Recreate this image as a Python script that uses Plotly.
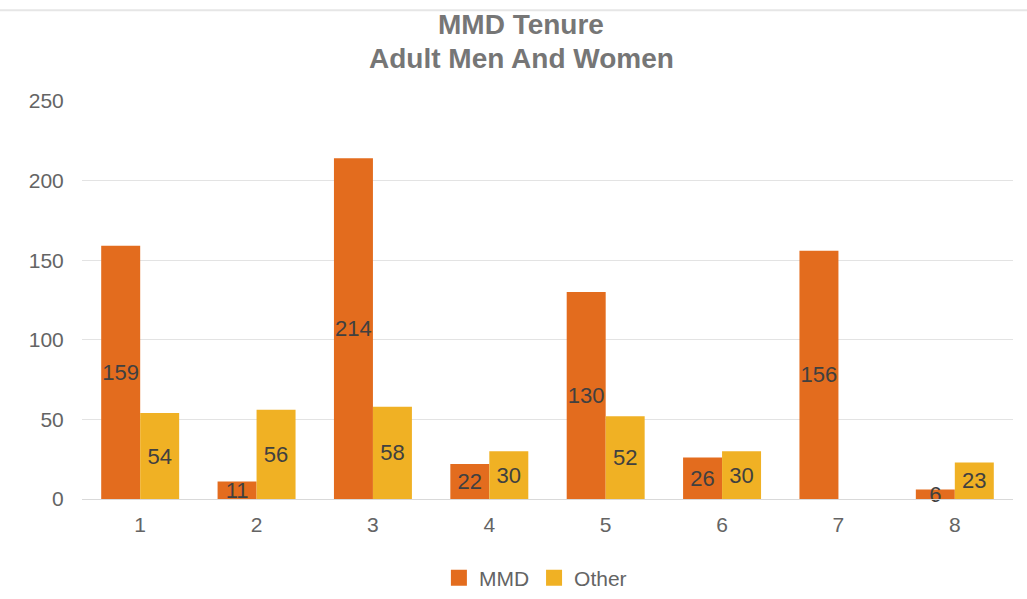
import plotly.graph_objects as go

categories = ["1", "2", "3", "4", "5", "6", "7", "8"]
mmd_values = [159, 11, 214, 22, 130, 26, 156, 6]
other_values = [54, 56, 58, 30, 52, 30, None, 23]
y_ticks = [0, 50, 100, 150, 200, 250]
series = [("MMD", mmd_values, "#E36C1E"), ("Other", other_values, "#F0B124")]

FONT = "Liberation Sans, Arial, sans-serif"
TICK_COLOR = "#646464"

def labels(vals):
    return ["" if v is None else str(v) for v in vals]

fig = go.Figure()
for name, vals, color in series:
    fig.add_trace(go.Bar(
        x=categories, y=vals, name=name, showlegend=False,
        marker=dict(color=color, line=dict(width=0)),
        text=labels(vals), textposition="inside", textangle=0,
        insidetextanchor="middle", constraintext="none",
        textfont=dict(color="#404040", size=22, family=FONT),
        cliponaxis=False,
    ))
# legend entries with square swatches
for name, vals, color in series:
    fig.add_trace(go.Scatter(
        x=[None], y=[None], name=name, mode="markers",
        marker=dict(symbol="square", size=16, color=color),
    ))

fig.update_layout(
    width=1027, height=599,
    margin=dict(l=82, r=14, t=101, b=100, autoexpand=False),
    paper_bgcolor="white", plot_bgcolor="white",
    barmode="group", bargap=0.33, bargroupgap=0,
    font=dict(family=FONT, color=TICK_COLOR, size=21),
    xaxis=dict(
        showgrid=False, showline=True, linecolor="#d9d9d9", linewidth=1,
        ticks="outside", ticklen=7, tickcolor="rgba(0,0,0,0)",
        tickfont=dict(size=21, color=TICK_COLOR), automargin=False,
    ),
    yaxis=dict(
        range=[0, 250], tickvals=y_ticks, showgrid=True,
        gridcolor="#e3e3e3", gridwidth=1, zeroline=False,
        showline=False, ticks="outside", ticklen=13, tickcolor="rgba(0,0,0,0)",
        tickfont=dict(size=21, color=TICK_COLOR), automargin=False,
    ),
    legend=dict(
        orientation="h", x=0.487, xanchor="center",
        yref="container", y=21 / 599, yanchor="middle",
        font=dict(size=21, color=TICK_COLOR), itemsizing="trace",
        traceorder="normal", itemwidth=30,
    ),
    annotations=[
        dict(text="<b>MMD Tenure</b>", xref="paper", yref="paper",
             x=0.4716, y=1.191, xanchor="center", yanchor="middle",
             showarrow=False, font=dict(size=28, color="#767676", family=FONT)),
        dict(text="<b>Adult Men And Women</b>", xref="paper", yref="paper",
             x=0.4716, y=1.108, xanchor="center", yanchor="middle",
             showarrow=False, font=dict(size=28, color="#767676", family=FONT)),
    ],
    shapes=[dict(type="line", xref="paper", yref="paper",
                 x0=-0.1, x1=1.05, y0=1.228, y1=1.228,
                 line=dict(color="#e6e6e6", width=2))],
)

fig.write_html("out.html")
